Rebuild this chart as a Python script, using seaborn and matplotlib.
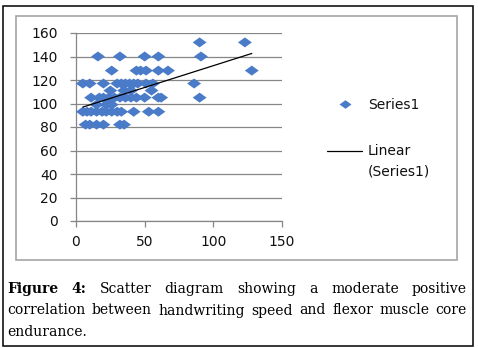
import matplotlib
matplotlib.use("Agg")
import matplotlib.pyplot as plt
import seaborn as sns
import pandas as pd
from matplotlib.patches import Rectangle
from matplotlib.lines import Line2D
from matplotlib.path import Path
from matplotlib.markers import MarkerStyle

# ---------------- data ----------------
speed = [90, 123,
         16, 32, 50, 60, 91,
         26, 44, 47, 51, 60, 67, 128,
         5, 10, 20, 30, 33, 36, 39, 42, 45, 51, 56, 86,
         25, 35, 40, 55,
         11, 17, 20, 24, 28, 32, 36, 40, 44, 50, 60, 62, 90,
         15, 22, 26,
         5, 8, 11, 15, 19, 22, 26, 30, 33, 42, 53, 60,
         7, 10, 15, 20, 32, 35]
endurance = [152, 152,
             140, 140, 140, 140, 140,
             128, 128, 128, 128, 128, 128, 128,
             117, 117, 117, 117, 117, 117, 117, 117, 117, 117, 117, 117,
             111, 111, 111, 111,
             105, 105, 105, 105, 105, 105, 105, 105, 105, 105, 105, 105, 105,
             99, 99, 99,
             93, 93, 93, 93, 93, 93, 93, 93, 93, 93, 93, 93,
             82, 82, 82, 82, 82, 82]
x_ticks = [0, 50, 100, 150]
y_ticks = [0, 20, 40, 60, 80, 100, 120, 140, 160]
series_label = "Series1"
trend_label = ["Linear", "(Series1)"]
caption_lines = [
    [("Figure", True), ("4:", True), ("Scatter", False), ("diagram", False),
     ("showing", False), ("a", False), ("moderate", False), ("positive", False)],
    [("correlation", False), ("between", False), ("handwriting", False), ("speed", False),
     ("and", False), ("flexor", False), ("muscle", False), ("core", False)],
    [("endurance.", False)],
]

# ---------------- style ----------------
sns.set_theme(style="white")
plt.rcParams['font.family'] = ['DejaVu Sans']

BLUE = "#4A7BC8"
GRID = "#868686"
W, H = 478, 348

fig = plt.figure(figsize=(W / 100, H / 100), dpi=100, facecolor="white")
ax = fig.add_axes([76 / W, 1 - 221 / H, 206 / W, 188 / H])
ax.set_facecolor("white")

diamond = MarkerStyle(Path([(-1, 0), (0, 0.72), (1, 0), (0, -0.72), (-1, 0)], closed=True))

df = pd.DataFrame({"speed": speed, "endurance": endurance})
sns.scatterplot(data=df, x="speed", y="endurance", marker=diamond, s=100,
                color=BLUE, edgecolor="none", linewidth=0, ax=ax, zorder=3, legend=False)
sns.regplot(data=df, x="speed", y="endurance", scatter=False, ci=None,
            color="black", line_kws={"lw": 0.9, "zorder": 4}, ax=ax, truncate=True)

ax.set_xlim(0, 150)
ax.set_ylim(0, 160)
ax.set_xticks(x_ticks)
ax.set_yticks(y_ticks)
ax.set_xlabel("")
ax.set_ylabel("")
ax.yaxis.grid(True, color=GRID, lw=0.9)
ax.xaxis.grid(False)
for s in ["top", "right"]:
    ax.spines[s].set_visible(False)
for s in ["left", "bottom"]:
    ax.spines[s].set_visible(True)
    ax.spines[s].set_color(GRID)
    ax.spines[s].set_linewidth(0.9)
ax.tick_params(axis="both", which="major", direction="out", length=4, width=0.9,
               color=GRID, labelsize=10, labelcolor="#111111", bottom=True, left=True)
ax.tick_params(axis="y", pad=9)
ax.tick_params(axis="x", pad=6)

# ---------------- legend (manual, like the Excel legend) ----------------
fig.add_artist(Line2D([345 / W], [1 - 104 / H], transform=fig.transFigure, marker=diamond,
                      markersize=8.6, color=BLUE, ls="", markeredgewidth=0))
fig.text(368 / W, 1 - 105 / H, series_label, fontsize=10, color="#111111", va="center", ha="left")
fig.add_artist(Line2D([327 / W, 362 / W], [1 - 151 / H, 1 - 151 / H], transform=fig.transFigure,
                      color="black", lw=0.9))
fig.text(368 / W, 1 - 151 / H, trend_label[0], fontsize=10, color="#111111", va="center", ha="left")
fig.text(368 / W, 1 - 172 / H, trend_label[1], fontsize=10, color="#111111", va="center", ha="left")

# ---------------- frames ----------------
fig.add_artist(Rectangle((16 / W, 1 - 260 / H), 441 / W, 244 / H, transform=fig.transFigure,
                         fill=False, edgecolor="#A6A6A6", lw=1.2))
fig.add_artist(Rectangle((3 / W, 1 - 346 / H), 470 / W, 340 / H, transform=fig.transFigure,
                         fill=False, edgecolor="black", lw=1.1))

# ---------------- caption (justified) ----------------
renderer = fig.canvas.get_renderer()
baselines = [293, 314.5, 336]
x0, x1 = 7, 467
for li, words in enumerate(caption_lines):
    objs = []
    for w, bold in words:
        t = fig.text(0, 1 - baselines[li] / H, w, fontsize=10, family="DejaVu Serif",
                     fontweight="bold" if bold else "normal", va="baseline", ha="left",
                     color="black")
        objs.append(t)
    widths = [t.get_window_extent(renderer).width for t in objs]
    if li < len(caption_lines) - 1 and len(objs) > 1:
        gap = (x1 - x0 - sum(widths)) / (len(objs) - 1)
    else:
        gap = 4.4
    x = x0
    for t, wd in zip(objs, widths):
        t.set_x(x / W)
        x += wd + gap

fig.savefig("out.png", dpi=100, facecolor="white")
